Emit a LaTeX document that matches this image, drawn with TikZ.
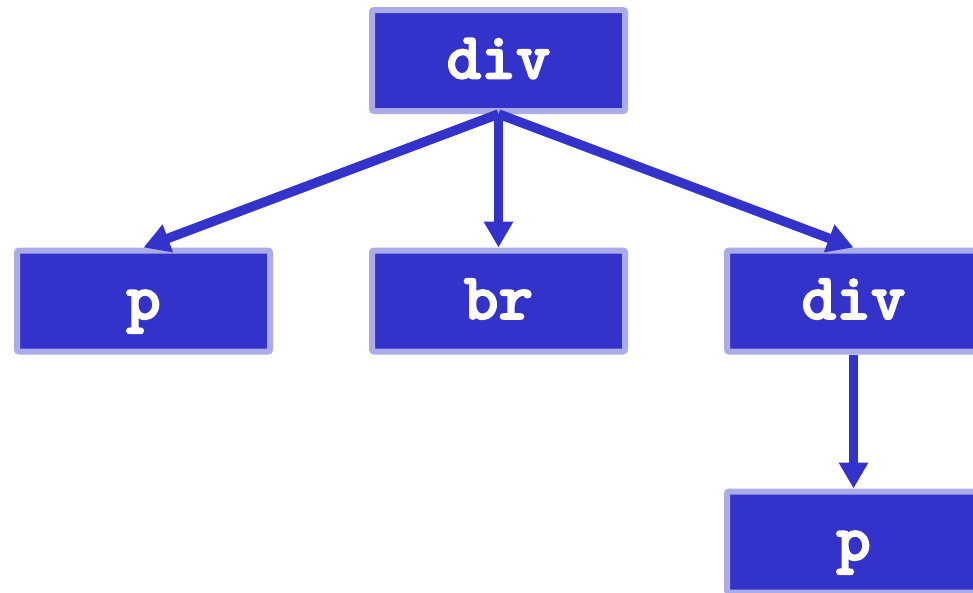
\documentclass[tikz,border=0pt]{standalone}
\usepackage{fontspec}
\newfontfamily\tagfont{lmmonolt10-bold.otf}[FakeBold=2.5]
\usetikzlibrary{arrows.meta}
\definecolor{boxfill}{HTML}{3333CC}
\definecolor{boxline}{HTML}{ABABE8}
\begin{document}
\begin{tikzpicture}[x=1pt,y=-1pt,
  tag/.style={draw=boxline,fill=boxfill,line width=6pt,rounded corners=2pt,
    minimum width=253pt,minimum height=101pt,inner sep=0pt,
    text=white,font=\tagfont\fontsize{66}{70}\selectfont,
    text height=48pt,text depth=12pt},
  link/.style={draw=boxfill,line width=9.5pt,-{Triangle[length=26pt,width=28pt]}}]
\useasboundingbox (0,0) rectangle (973,592);
\node[tag] (root) at (498.5,60.5) {div};
\node[tag] (p1) at (143.5,301) {p};
\node[tag] (br) at (498.5,301) {br};
\node[tag] (div2) at (853.5,301) {div};
\node[tag] (p2) at (853.5,542) {p};
\draw[link] (root.south) -- (p1.north);
\draw[link] (root.south) -- (br.north);
\draw[link] (root.south) -- (div2.north);
\draw[link] (div2.south) -- (p2.north);
\end{tikzpicture}
\end{document}
